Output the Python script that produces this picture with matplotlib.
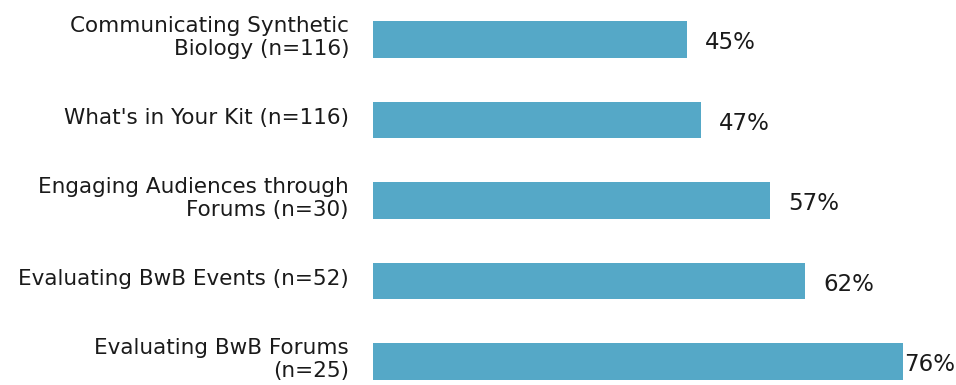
import matplotlib.pyplot as plt

# survey items and the share of respondents for each
labels = [
    'Communicating Synthetic\nBiology (n=116)',
    "What's in Your Kit (n=116)",
    'Engaging Audiences through\nForums (n=30)',
    'Evaluating BwB Events (n=52)',
    'Evaluating BwB Forums\n(n=25)',
]
values = [45, 47, 57, 62, 76]

bar_color = '#55a8c7'
text_color = '#1a1a1a'

fig = plt.figure(figsize=(9.56, 3.85), dpi=100)
ax = fig.add_axes([373 / 956, 0, 583 / 956, 1])

pos = list(range(len(values)))
ax.barh(pos, values, height=0.45, color=bar_color)
ax.set_xlim(0, 583 / 6.97)
ax.set_ylim(4.292, -0.491)

# category names sit left of the bars
for y, lab in zip(pos, labels):
    ax.annotate(lab, xy=(0, y), xycoords='data', xytext=(-24, 2),
                textcoords='offset pixels', ha='right', va='center',
                fontsize=15.5, color=text_color, linespacing=1.2)

# percentages to the right; the longest bar leaves little room
for y, v in zip(pos, values):
    off = 1 if v == max(values) else 18
    ax.annotate(f'{v}%', xy=(v, y), xycoords='data', xytext=(off, -3),
                textcoords='offset pixels', ha='left', va='center',
                fontsize=16.5, color=text_color)

ax.axis('off')
fig.savefig('out.png', dpi=100)
